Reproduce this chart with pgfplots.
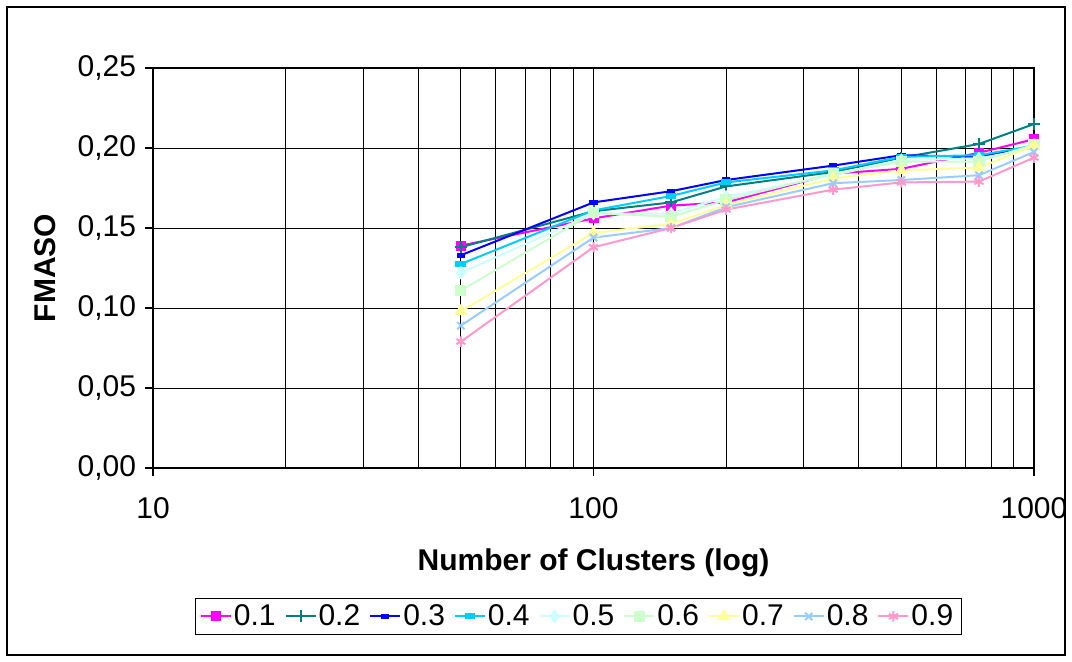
\documentclass[border=0pt]{standalone}
\usepackage{pgfplots}
\pgfplotsset{compat=1.18}
\usepackage{fontspec}
\setmainfont{Liberation Sans}

\definecolor{s1}{HTML}{FF00FF}
\definecolor{s2}{HTML}{008080}
\definecolor{s3}{HTML}{0000FF}
\definecolor{s4}{HTML}{00CCFF}
\definecolor{s5}{HTML}{CCFFFF}
\definecolor{s6}{HTML}{CCFFCC}
\definecolor{s7}{HTML}{FFFF99}
\definecolor{s8}{HTML}{99CCFF}
\definecolor{s9}{HTML}{FF99CC}

\newcommand{\chartfont}{\fontsize{15}{18}\selectfont}

\begin{document}
\begin{tikzpicture}
\useasboundingbox (0pt,0pt) rectangle (536pt,330.5pt);
\draw[line width=1pt] (3.5pt,3pt) rectangle (532.5pt,327pt);
\begin{axis}[
  at={(76.5pt,96.5pt)}, anchor=south west,
  scale only axis, width=440.5pt, height=200pt,
  xmode=log, xmin=10, xmax=1000,
  ymin=0, ymax=0.25,
  xtick={10,100,1000}, xticklabels={10,100,1000},
  ytick={0,0.05,0.10,0.15,0.20,0.25},
  /pgf/number format/.cd, use comma, fixed, fixed zerofill, precision=2, assume math mode=true,
  /pgfplots/.cd,
  xmajorgrids, xminorgrids, ymajorgrids,
  grid style={black, line width=0.5pt},
  minor grid style={black, line width=0.5pt},
  axis line style={black, line width=0.6pt},
  tick align=outside, tick pos=left,
  major tick length=4pt, minor tick length=0pt,
  tick style={black, line width=0.6pt},
  tick label style={font=\chartfont},
  xticklabel style={yshift=-7pt},
  yticklabel style={xshift=-1pt},
  xlabel={\textbf{Number of Clusters (log)}},
  ylabel={\textbf{FMASO}},
  every axis x label/.style={at={(axis description cs:0.5,-0.2375)}, anchor=center, font=\chartfont},
  every axis y label/.style={at={(axis description cs:-0.1226,0.5)}, rotate=90, anchor=center, font=\chartfont},
  legend columns=9,
  legend style={at={(axis description cs:0.483,-0.371)}, anchor=center,
    font=\chartfont, draw=black, line width=0.6pt, inner xsep=2pt, inner ysep=1pt,
    /tikz/every even column/.append style={column sep=2.5pt},
    /tikz/every odd column/.append style={column sep=-1pt}},
  legend image code/.code={%
    \draw[mark repeat=2,mark phase=2] plot coordinates {(0pt,0pt) (7.5pt,0pt) (15pt,0pt)};},
  every axis plot/.append style={line width=1pt},
]
\addplot[color=s1, mark=square*, mark size=2pt] coordinates {
  (50,0.139) (100,0.156) (150,0.164) (200,0.166) (350,0.184) (500,0.187) (750,0.197) (1000,0.2055)};
\addlegendentry{0.1}
\addplot[color=s2, mark=+, mark size=3pt] coordinates {
  (50,0.138) (100,0.1605) (150,0.166) (200,0.176) (350,0.185) (500,0.194) (750,0.2025) (1000,0.215)};
\addlegendentry{0.2}
\addplot[color=s3, mark=square*, mark size=1.6pt, mark options={yscale=0.5}] coordinates {
  (50,0.133) (100,0.166) (150,0.173) (200,0.180) (350,0.189) (500,0.1955) (750,0.1945) (1000,0.201)};
\addlegendentry{0.3}
\addplot[color=s4, mark=square*, mark size=2.2pt, mark options={yscale=0.45}] coordinates {
  (50,0.1275) (100,0.161) (150,0.170) (200,0.1785) (350,0.186) (500,0.1945) (750,0.1955) (1000,0.2015)};
\addlegendentry{0.4}
\addplot[color=s5, mark=diamond*, mark size=2.6pt] coordinates {
  (50,0.122) (100,0.159) (150,0.159) (200,0.1695) (350,0.183) (500,0.1925) (750,0.1935) (1000,0.200)};
\addlegendentry{0.5}
\addplot[color=s6, mark=square*, mark size=2.3pt] coordinates {
  (50,0.111) (100,0.1595) (150,0.157) (200,0.1675) (350,0.184) (500,0.1915) (750,0.1915) (1000,0.202)};
\addlegendentry{0.6}
\addplot[color=s7, mark=triangle*, mark size=2.8pt] coordinates {
  (50,0.098) (100,0.147) (150,0.1525) (200,0.1645) (350,0.181) (500,0.186) (750,0.1877) (1000,0.2015)};
\addlegendentry{0.7}
\addplot[color=s8, mark=x, mark size=2.6pt] coordinates {
  (50,0.089) (100,0.144) (150,0.150) (200,0.163) (350,0.178) (500,0.180) (750,0.183) (1000,0.1975)};
\addlegendentry{0.8}
\addplot[color=s9, mark=asterisk, mark size=2.6pt] coordinates {
  (50,0.079) (100,0.138) (150,0.150) (200,0.1615) (350,0.174) (500,0.1785) (750,0.179) (1000,0.194)};
\addlegendentry{0.9}
\end{axis}
\end{tikzpicture}
\end{document}
